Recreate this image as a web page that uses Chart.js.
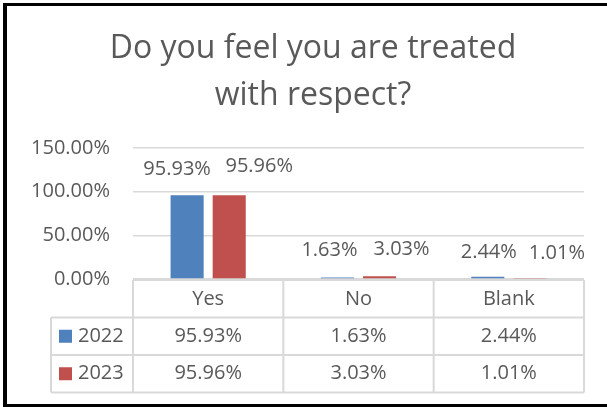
<!DOCTYPE html>
<html>
<head>
<meta charset="utf-8">
<script src="https://cdn.jsdelivr.net/npm/chart.js@4.4.1/dist/chart.umd.min.js"></script>
<style>
  html, body { margin: 0; padding: 0; background: #fff; }
  #wrap { position: relative; width: 607px; height: 407px; overflow: hidden; }
  #frame {
    position: absolute; left: 3px; top: 3px; right: 0; bottom: 0;
    border-left: 4px solid #000; border-top: 3px solid #000; border-bottom: 3px solid #000;
    box-sizing: border-box; pointer-events: none;
  }
  canvas { position: absolute; left: 0; top: 0; }
</style>
</head>
<body>
<div id="wrap">
  <canvas id="chart" width="607" height="407"></canvas>
  <div id="frame"></div>
</div>
<script>
const titleLines = ["Do you feel you are treated", "with respect?"];
const categories = ["Yes", "No", "Blank"];
const seriesNames = ["2022", "2023"];
const values2022 = [0.9593, 0.0163, 0.0244];
const values2023 = [0.9596, 0.0303, 0.0101];
const yTicks = [0, 0.5, 1.0, 1.5];

const FONT = "'Open Sans', 'Noto Sans', sans-serif";
const TEXT = "#595959";
const LINE = "#d9d9d9";
const colors = ["#4f81bd", "#c0504d"];

// hand-placed label nudges (dx, dy) from each bar's top centre
const labelNudge = [
  [[-10, -26], [-8, -27], [1, -25]],
  [[30, -29], [22, -27], [27, -25]],
];

const pct = v => (v * 100).toFixed(2) + "%";

// title sits a little right of the canvas centre, so it is drawn by hand
const chartTitle = {
  id: "chartTitle",
  afterDraw(chart) {
    const {ctx} = chart;
    ctx.save();
    ctx.font = `32px ${FONT}`;
    ctx.fillStyle = TEXT;
    ctx.textAlign = "center";
    ctx.textBaseline = "middle";
    titleLines.forEach((line, i) => ctx.fillText(line, 313, 49 + i * 47));
    ctx.restore();
  },
};

const valueLabels = {
  id: "valueLabels",
  afterDatasetsDraw(chart) {
    const {ctx} = chart;
    ctx.save();
    ctx.font = `20px ${FONT}`;
    ctx.fillStyle = TEXT;
    ctx.textAlign = "center";
    ctx.textBaseline = "middle";
    chart.data.datasets.forEach((ds, i) => {
      chart.getDatasetMeta(i).data.forEach((bar, j) => {
        const [dx, dy] = labelNudge[i][j];
        ctx.fillText(pct(ds.data[j]), bar.x + dx, bar.y + dy);
      });
    });
    ctx.restore();
  },
};

// data table under the plot, columns follow the category axis
const dataTable = {
  id: "dataTable",
  afterDraw(chart) {
    const {ctx, chartArea} = chart;
    const n = categories.length;
    const colW = (chartArea.right - chartArea.left) / n;
    const legendLeft = 51;
    const top = chartArea.bottom + 1;
    const rowH = 37.5;
    const edges = [legendLeft];
    for (let i = 0; i <= n; i++) edges.push(chartArea.left + i * colW);
    const right = edges[edges.length - 1];

    ctx.save();
    ctx.strokeStyle = LINE;
    ctx.lineWidth = 2;
    ctx.beginPath();
    // horizontal lines
    ctx.moveTo(chartArea.left, top); ctx.lineTo(right, top);
    for (let r = 1; r <= seriesNames.length + 1; r++) {
      ctx.moveTo(legendLeft, top + r * rowH); ctx.lineTo(right, top + r * rowH);
    }
    // vertical lines
    ctx.moveTo(legendLeft, top + rowH); ctx.lineTo(legendLeft, top + 3 * rowH);
    for (let i = 1; i < edges.length; i++) {
      ctx.moveTo(edges[i], top); ctx.lineTo(edges[i], top + 3 * rowH);
    }
    ctx.stroke();

    ctx.font = `20px ${FONT}`;
    ctx.fillStyle = TEXT;
    ctx.textBaseline = "middle";
    ctx.textAlign = "center";
    categories.forEach((c, i) => {
      ctx.fillText(c, (edges[i + 1] + edges[i + 2]) / 2, top + rowH / 2 + 1);
    });
    chart.data.datasets.forEach((ds, r) => {
      const cy = top + (r + 1.5) * rowH;
      ds.data.forEach((v, i) => {
        ctx.textAlign = "center";
        ctx.fillStyle = TEXT;
        ctx.fillText(pct(v), (edges[i + 1] + edges[i + 2]) / 2, cy);
      });
      ctx.fillStyle = ds.backgroundColor;
      ctx.fillRect(59, cy - 6.5, 13, 13);
      ctx.fillStyle = TEXT;
      ctx.textAlign = "left";
      ctx.fillText(ds.label, 78, cy);
    });
    ctx.restore();
  },
};

new Chart(document.getElementById("chart"), {
  type: "bar",
  data: {
    labels: categories,
    datasets: [
      {label: seriesNames[0], data: values2022, backgroundColor: colors[0]},
      {label: seriesNames[1], data: values2023, backgroundColor: colors[1]},
    ],
  },
  options: {
    responsive: false,
    animation: false,
    events: [],
    categoryPercentage: 0.56,
    barPercentage: 0.786,
    layout: {padding: {left: 0, right: 23, top: 148, bottom: 128}},
    plugins: {
      legend: {display: false},
      tooltip: {enabled: false},
      title: {display: false},
    },
    scales: {
      x: {display: false},
      y: {
        min: 0,
        max: 1.5,
        afterBuildTicks: scale => { scale.ticks = yTicks.map(v => ({value: v})); },
        afterFit: scale => { scale.width = 133; },
        border: {display: false},
        grid: {color: LINE, lineWidth: 1.5, drawTicks: false},
        ticks: {
          padding: 23,
          color: TEXT,
          font: {family: FONT, size: 20},
          callback: v => pct(v),
        },
      },
    },
  },
  plugins: [chartTitle, valueLabels, dataTable],
});
</script>
</body>
</html>
